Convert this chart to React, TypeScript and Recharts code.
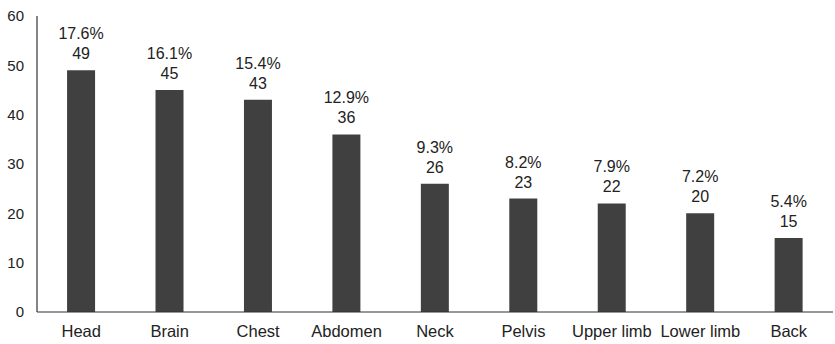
import React from 'react';
import { BarChart, Bar, XAxis, YAxis, LabelList } from 'recharts';

const categories = ['Head', 'Brain', 'Chest', 'Abdomen', 'Neck', 'Pelvis', 'Upper limb', 'Lower limb', 'Back'];
const counts = [49, 45, 43, 36, 26, 23, 22, 20, 15];
const percents = ['17.6%', '16.1%', '15.4%', '12.9%', '9.3%', '8.2%', '7.9%', '7.2%', '5.4%'];
const yTicks = [0, 10, 20, 30, 40, 50, 60];

const data = categories.map((name, i) => ({ name, count: counts[i], pct: percents[i] }));

const FONT = 'Liberation Sans, Arial, sans-serif';
const TEXT = '#222';

// two-line label: percentage over the count
const TopLabel = (props: any) => {
  const { x, y, width, index } = props;
  const cx = x + width / 2;
  return (
    <g fontFamily={FONT} fontSize={16} fill={TEXT} textAnchor="middle">
      <text x={cx} y={y - 31}>{data[index].pct}</text>
      <text x={cx} y={y - 11}>{data[index].count}</text>
    </g>
  );
};

export default function App() {
  return (
    <div style={{ position: 'absolute', left: 0, top: 0, width: 835, height: 344, background: '#fff' }}>
      <BarChart
        width={835}
        height={344}
        data={data}
        margin={{ top: 16, right: 2, left: 0, bottom: 2 }}
        barCategoryGap="34%"
      >
        <XAxis
          dataKey="name"
          axisLine={{ stroke: '#333', strokeWidth: 1.2 }}
          tickLine={false}
          tick={{ fontFamily: FONT, fontSize: 16.5, fill: TEXT }}
          tickMargin={7}
          height={30}
          interval={0}
        />
        <YAxis
          domain={[0, 60]}
          ticks={yTicks}
          width={37}
          axisLine={{ stroke: '#333', strokeWidth: 1.2 }}
          tickLine={false}
          tick={{ fontFamily: FONT, fontSize: 15, fill: TEXT }}
          tickMargin={7}
        />
        <Bar dataKey="count" fill="#404040" isAnimationActive={false}>
          <LabelList dataKey="count" content={TopLabel} />
        </Bar>
      </BarChart>
    </div>
  );
}
